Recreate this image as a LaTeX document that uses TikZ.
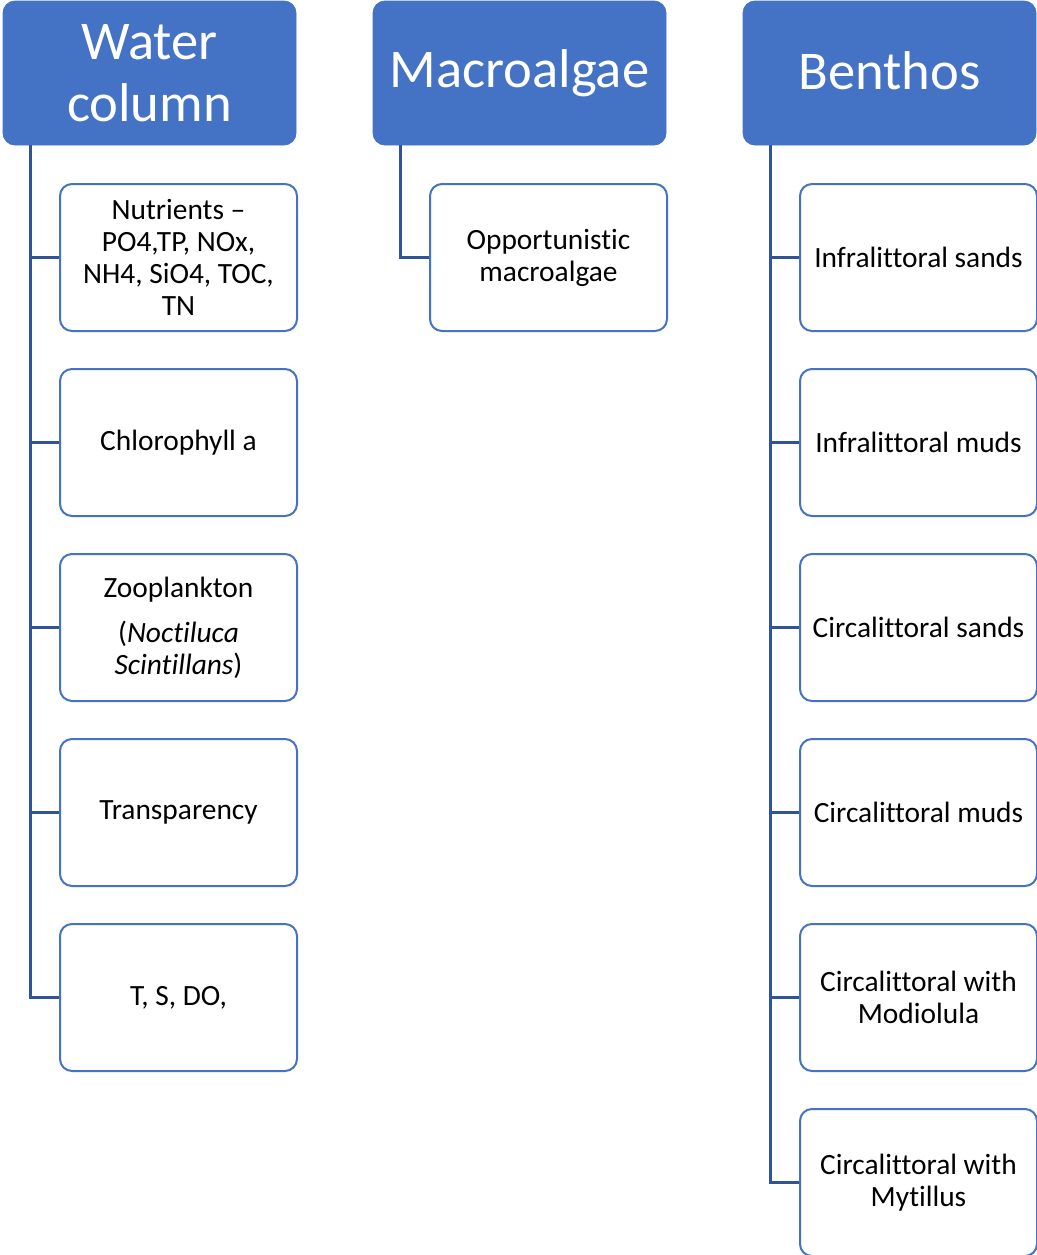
\documentclass[tikz,border=0pt]{standalone}
\usepackage{fontspec}
\setmainfont{Carlito}[Ligatures=NoCommon]
\usetikzlibrary{positioning}
\definecolor{hdblue}{HTML}{4472C4}
\definecolor{lnblue}{HTML}{2F5597}

\begin{document}
\begin{tikzpicture}[
  x=0.5pt,y=-0.5pt,
  node distance=18pt,
  every node/.style={align=center,inner sep=0pt},
  head/.style={fill=hdblue,draw=hdblue,rounded corners=6pt,minimum width=146.5pt,minimum height=72pt,text=white,font=\fontsize{27.3}{31}\selectfont},
  item/.style={draw=hdblue,line width=1pt,fill=white,rounded corners=6pt,minimum width=118.5pt,minimum height=73.5pt,font=\fontsize{14.7}{16}\selectfont},
  conn/.style={draw=lnblue,line width=1.2pt}
]
\useasboundingbox (0,0) rectangle (1037,1255);
% top level
\node[head] (wc) at (149.5,73) {Water\\column};
\node[head] (ma) at (519.5,73) {Macroalgae};
\node[head] (be) at (889.5,73) {\raisebox{2pt}{Benthos}};
% water column
\node[item] (w1) at (178.5,257.5) {Nutrients –\\PO4,TP, NOx,\\NH4, SiO4, TOC,\\TN};
\node[item,below=of w1] (w2) {Chlorophyll a};
\node[item,below=of w2] (w3) {Zooplankton\\[6.5pt](\textit{Noctiluca}\\\textit{Scintillans})};
\node[item,below=of w3] (w4) {Transparency};
\node[item,below=of w4] (w5) {T, S, DO,};
% macroalgae
\node[item] (m1) at (548.5,257.5) {Opportunistic\\macroalgae};
% benthos
\node[item] (b1) at (918.5,257.5) {Infralittoral sands};
\node[item,below=of b1] (b2) {Infralittoral muds};
\node[item,below=of b2] (b3) {Circalittoral sands};
\node[item,below=of b3] (b4) {Circalittoral muds};
\node[item,below=of b4] (b5) {Circalittoral with\\Modiolula};
\node[item,below=of b5] (b6) {Circalittoral with\\Mytillus};
% connectors
\foreach \i in {1,...,5}
  \draw[conn] ([xshift=14pt]wc.south west) |- (w\i.west);
\draw[conn] ([xshift=14pt]ma.south west) |- (m1.west);
\foreach \i in {1,...,6}
  \draw[conn] ([xshift=14pt]be.south west) |- (b\i.west);
\end{tikzpicture}
\end{document}
